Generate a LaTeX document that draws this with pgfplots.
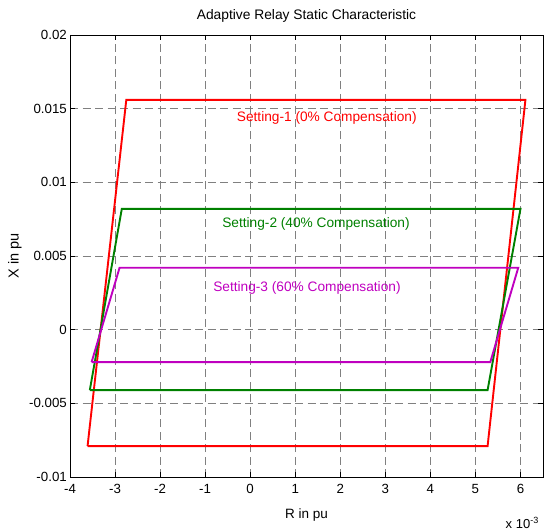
\documentclass[border=0pt]{standalone}
\usepackage{pgfplots}
\pgfplotsset{compat=1.18}
\usepackage{fontspec}
\setmainfont{Liberation Sans}
\definecolor{mgreen}{rgb}{0,0.5,0}
\definecolor{mmag}{rgb}{0.75,0,0.75}
\begin{document}
\begin{tikzpicture}
\begin{axis}[
  scale only axis,
  width=473pt, height=442pt,
  xmin=-4, xmax=6.5, ymin=-0.01, ymax=0.02,
  xtick={-4,-3,-2,-1,0,1,2,3,4,5,6},
  xticklabels={-4,-3,-2,-1,0,1,2,3,4,5,6},
  ytick={-0.01,-0.005,0,0.005,0.01,0.015,0.02},
  yticklabels={-0.01,-0.005,0,0.005,0.01,0.015,0.02},
  scaled y ticks=false,
  tick align=inside,
  major tick length=5pt,
  grid=major,
  major grid style={dash pattern=on 8pt off 4.5pt, black!50, line width=0.9pt},
  axis line style={black, line width=0.8pt},
  tick style={black, line width=0.8pt},
  tick label style={font=\fontsize{13.3}{15}\selectfont, inner sep=2pt},
  xticklabel style={yshift=-5pt},
  yticklabel style={xshift=-1pt},
  title={Adaptive Relay Static Characteristic},
  title style={font=\fontsize{13.8}{16}\selectfont, at={(axis description cs:0.5,1)}, anchor=center, yshift=13pt},
  xlabel={R in pu},
  ylabel={X in pu},
  xlabel style={font=\fontsize{13.5}{15}\selectfont, at={(axis description cs:0.5,0)}, anchor=center, yshift=-38pt},
  ylabel style={font=\fontsize{14.5}{16}\selectfont, at={(axis description cs:-0.1163,0.5)}, anchor=center},
  clip=false,
]
\addplot[red, line width=1.9pt] coordinates {
 (-3.61,-0.0079) (5.27,-0.0079) (6.11,0.0156) (-2.75,0.0156) (-3.61,-0.0079)};
\addplot[mgreen, line width=1.9pt] coordinates {
 (-3.56,-0.0041) (5.27,-0.0041) (6.00,0.0082) (-2.85,0.0082) (-3.56,-0.0041)};
\addplot[mmag, line width=1.9pt] coordinates {
 (-3.52,-0.0022) (5.33,-0.0022) (5.95,0.0042) (-2.90,0.0042) (-3.52,-0.0022)};
\node[red, font=\fontsize{13.7}{15}\selectfont] at (axis cs:1.7,0.01437) {Setting-1 (0\% Compensation)};
\node[mgreen, font=\fontsize{13.7}{15}\selectfont] at (axis cs:1.46,0.00718) {Setting-2 (40\% Compensation)};
\node[mmag, font=\fontsize{13.7}{15}\selectfont] at (axis cs:1.26,0.00283) {Setting-3 (60\% Compensation)};
\node[font=\fontsize{13}{15}\selectfont, anchor=base east, inner sep=0pt] at ([yshift=-51pt, xshift=-4pt]rel axis cs:1,0) {x 10$^{\mbox{\fontsize{9}{10}\selectfont -3}}$};
\path (rel axis cs:0,0) ++(-70pt,-54pt) coordinate (bbA);
\path (rel axis cs:1,1) ++(3pt,35pt) coordinate (bbB);
\path (bbA) rectangle (bbB);
\end{axis}
\end{tikzpicture}
\end{document}
